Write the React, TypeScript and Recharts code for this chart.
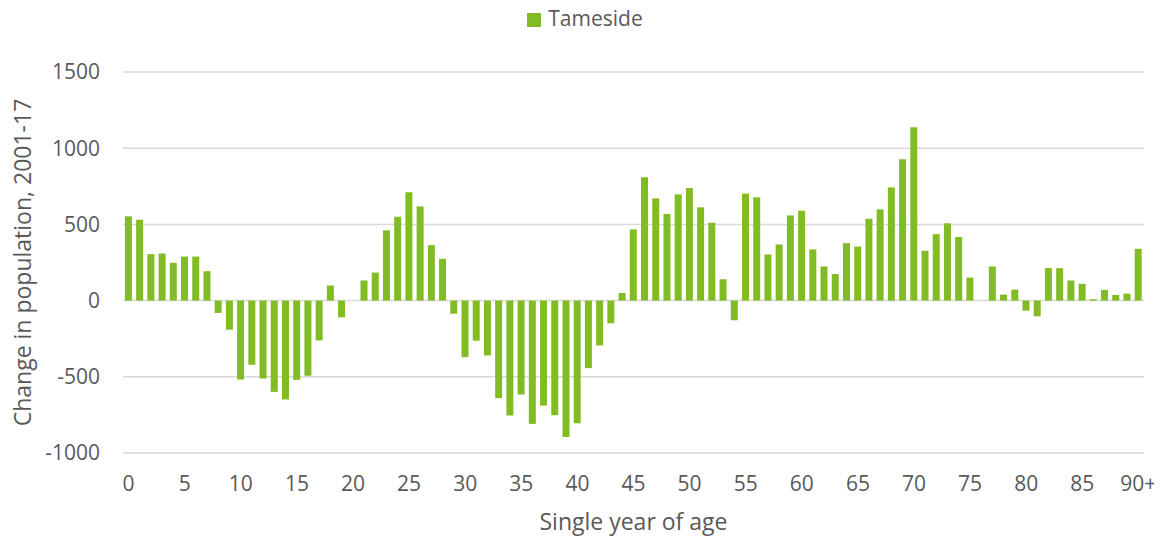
import { Bar, BarChart, CartesianGrid, XAxis, YAxis } from "recharts";

const ages = [
  "0", "1", "2", "3", "4", "5", "6", "7", "8", "9",
  "10", "11", "12", "13", "14", "15", "16", "17", "18", "19",
  "20", "21", "22", "23", "24", "25", "26", "27", "28", "29",
  "30", "31", "32", "33", "34", "35", "36", "37", "38", "39",
  "40", "41", "42", "43", "44", "45", "46", "47", "48", "49",
  "50", "51", "52", "53", "54", "55", "56", "57", "58", "59",
  "60", "61", "62", "63", "64", "65", "66", "67", "68", "69",
  "70", "71", "72", "73", "74", "75", "76", "77", "78", "79",
  "80", "81", "82", "83", "84", "85", "86", "87", "88", "89",
  "90+",
];

const tameside = [
  553, 531, 305, 309, 248, 289, 289, 193, -81, -191,
  -518, -421, -511, -599, -649, -520, -493, -261, 99, -110,
  0, 132, 184, 461, 550, 711, 618, 364, 274, -86,
  -371, -263, -360, -640, -754, -616, -809, -689, -752, -895,
  -805, -443, -294, -149, 50, 467, 809, 671, 568, 697,
  739, 612, 511, 140, -129, 702, 678, 303, 368, 559,
  590, 336, 224, 175, 377, 355, 537, 599, 743, 928,
  1138, 327, 436, 507, 417, 151, 0, 224, 39, 72,
  -66, -103, 213, 213, 132, 110, 9, 70, 37, 46,
  340,
];

const xTickLabels = [
  "0", "5", "10", "15", "20", "25", "30", "35", "40", "45",
  "50", "55", "60", "65", "70", "75", "80", "85", "90+",
];

const yTicks = [-1000, -500, 0, 500, 1000, 1500];

const data = ages.map((age, i) => ({ age, value: tameside[i] }));

const textColor = "#595959";
const green = "#82bc24";
const font = "'Open Sans', sans-serif";

export default function App() {
  return (
    <div style={{ position: "relative", width: 1154, height: 530, fontFamily: font }}>
      <div
        style={{
          position: "absolute",
          top: 0,
          left: 0,
          width: 1146,
          display: "flex",
          justifyContent: "center",
          alignItems: "center",
          fontSize: 21,
          lineHeight: "21px",
          color: textColor,
          paddingLeft: 4,
        }}
      >
        <span
          style={{
            display: "inline-block",
            width: 14,
            height: 14,
            background: green,
            marginRight: 7,
            marginTop: 3,
          }}
        />
        Tameside
      </div>
      <BarChart
        width={1154}
        height={530}
        data={data}
        margin={{ top: 64, right: 18, left: 0, bottom: 0 }}
        barCategoryGap="17%"
      >
        <CartesianGrid vertical={false} stroke="#d9d9d9" strokeWidth={1.5} />
        <XAxis
          dataKey="age"
          interval={0}
          axisLine={false}
          tickLine={false}
          tickSize={6}
          tickMargin={17}
          height={85}
          tick={{ fill: textColor, fontSize: 21, fontFamily: font }}
          tickFormatter={(v: string) => (xTickLabels.includes(v) ? v : "")}
          label={(props: any) => {
            const vb = props.viewBox;
            return (
              <text
                x={vb.x + vb.width / 2}
                y={vb.y + 77}
                textAnchor="middle"
                fill={textColor}
                fontSize={23}
                fontFamily={font}
              >
                Single year of age
              </text>
            );
          }}
        />
        <YAxis
          domain={[-1000, 1500]}
          ticks={yTicks}
          width={115}
          axisLine={false}
          tickLine={false}
          tickSize={6}
          tickMargin={17}
          tick={{ fill: textColor, fontSize: 21, fontFamily: font }}
          label={(props: any) => {
            const vb = props.viewBox;
            const cy = vb.y + vb.height / 2;
            return (
              <text
                x={23}
                y={cy}
                transform={`rotate(-90, 23, ${cy})`}
                textAnchor="middle"
                fill={textColor}
                fontSize={23}
                fontFamily={font}
              >
                Change in population, 2001-17
              </text>
            );
          }}
        />
        <Bar dataKey="value" fill={green} isAnimationActive={false} />
      </BarChart>
    </div>
  );
}
